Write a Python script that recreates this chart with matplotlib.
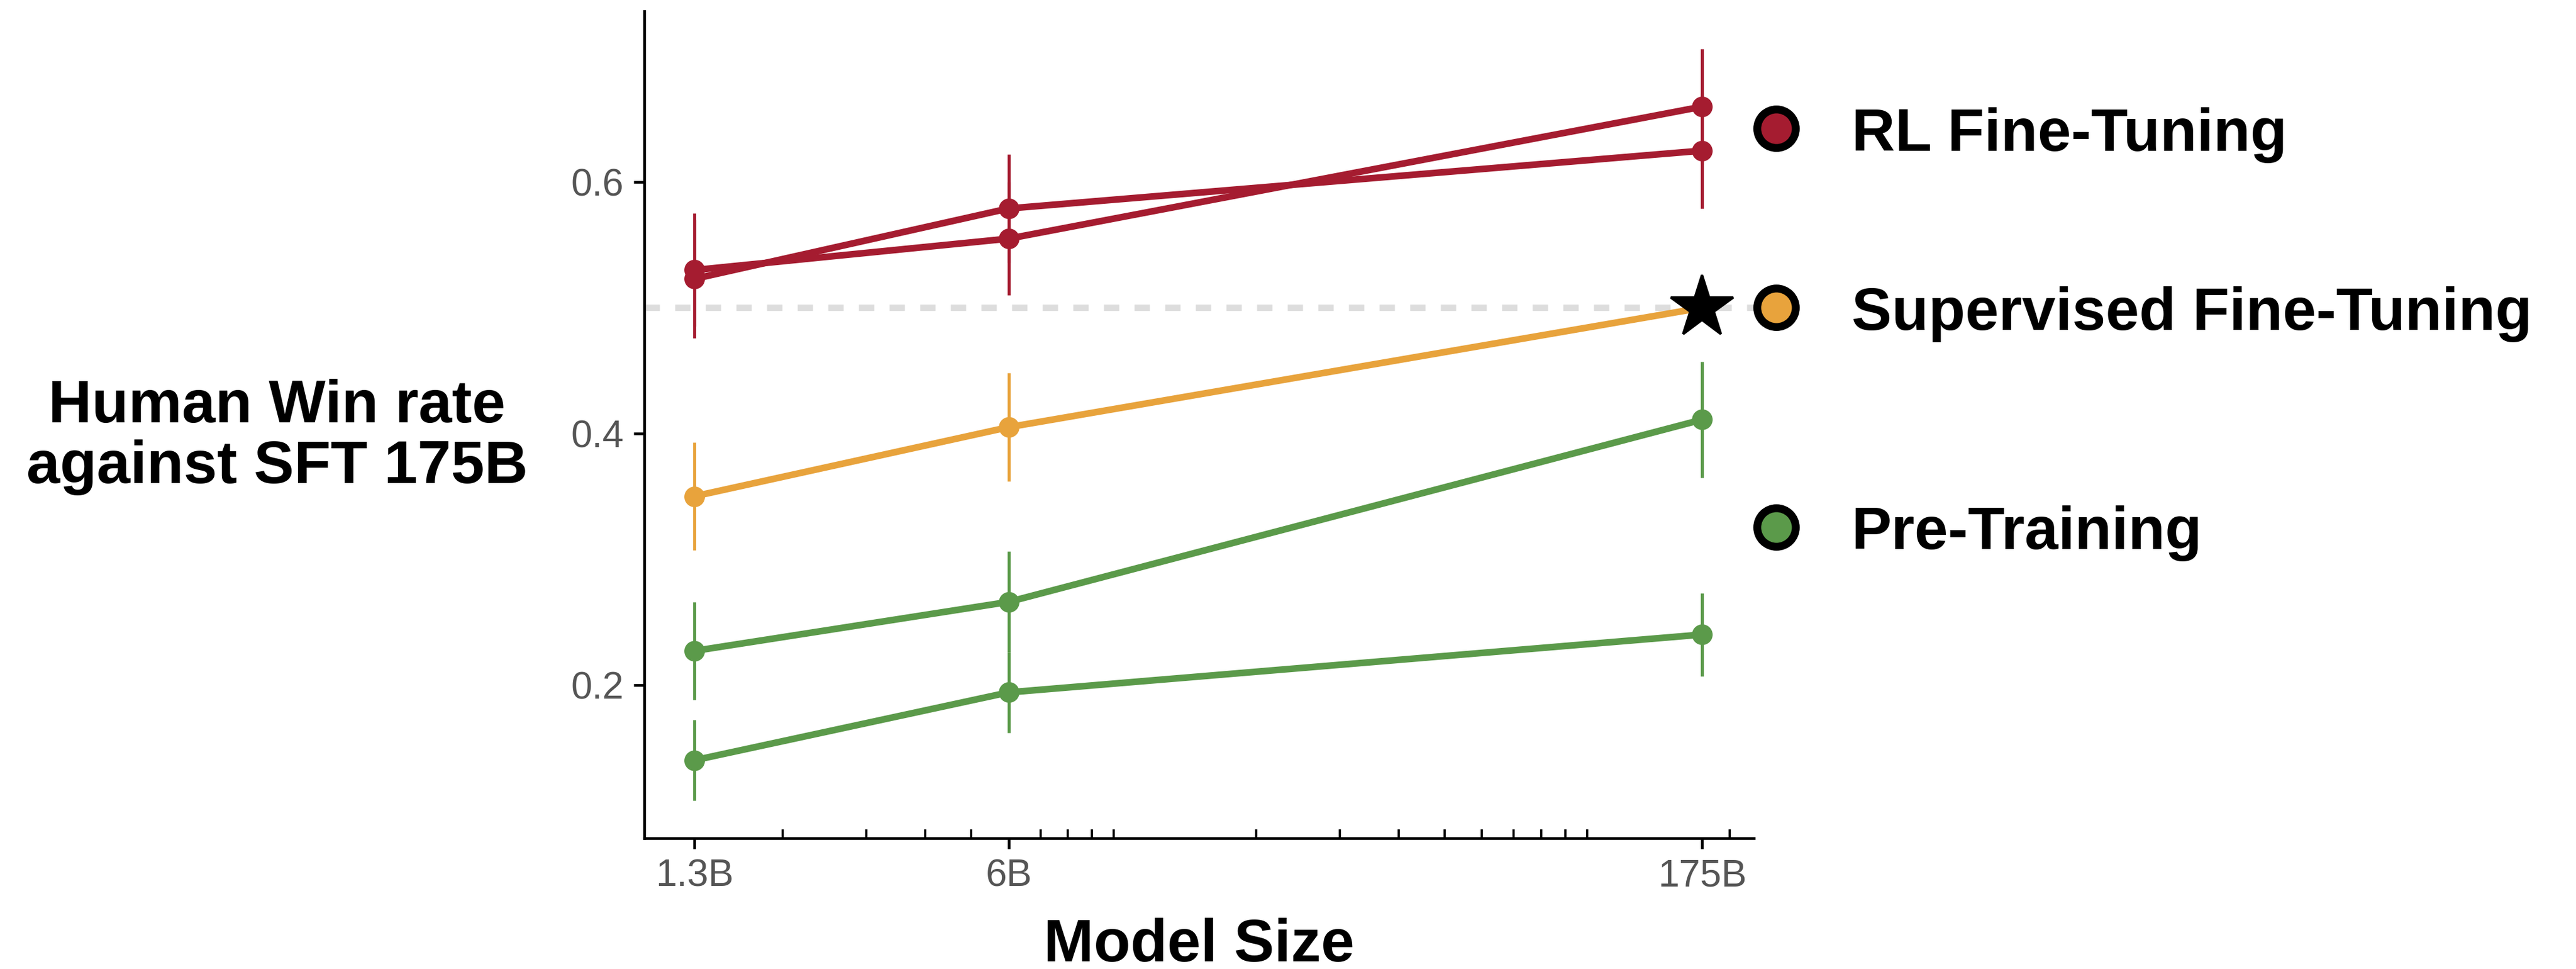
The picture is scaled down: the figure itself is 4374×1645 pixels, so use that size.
import numpy as np
import matplotlib
matplotlib.use('Agg')
import matplotlib.pyplot as plt
import matplotlib.transforms as mtransforms
from matplotlib.ticker import FixedLocator, LogLocator, NullFormatter

plt.rcParams['font.family'] = ['Liberation Sans', 'DejaVu Sans']

# data
sizes = [1.3, 6, 175]
size_labels = ['1.3B', '6B', '175B']

rl_a = [0.523, 0.579, 0.625]
rl_a_err = [0.047, 0.043, 0.046]
rl_b = [0.530, 0.555, 0.660]
rl_b_err = [0.045, 0.045, 0.046]

sft = [0.350, 0.405, 0.500]
sft_err = [0.043, 0.043, 0.0]

pt_a = [0.227, 0.266, 0.411]
pt_a_err = [0.039, 0.040, 0.046]
pt_b = [0.140, 0.194, 0.240]
pt_b_err = [0.032, 0.032, 0.033]

baseline = 0.5

RED = '#a51c30'
ORANGE = '#e8a33c'
GREEN = '#5b9a4a'

fig = plt.figure(figsize=(4374 / 300, 1645 / 300), dpi=300)
ax = fig.add_axes([0.2501, 0.1350, 0.4307, 0.8535])

ax.axhline(baseline, color='#dddddd', lw=2.6, dashes=(2.4, 2.4), zorder=1)

series = [
    (rl_a, rl_a_err, RED),
    (rl_b, rl_b_err, RED),
    (sft, sft_err, ORANGE),
    (pt_a, pt_a_err, GREEN),
    (pt_b, pt_b_err, GREEN),
]
for vals, errs, col in series:
    ax.errorbar(sizes, vals, yerr=errs, color=col, lw=2.7, elinewidth=1.25,
                capsize=0, marker='o', ms=7.4, zorder=3)

# SFT 175B reference point
ax.plot([sizes[-1]], [sft[-1]], marker='*', ms=26.5, color='black',
        ls='none', zorder=5, clip_on=False)

ax.set_xscale('log')
ax.set_xlim(1.019, 225)
ax.set_ylim(0.078, 0.736)

ax.xaxis.set_major_locator(FixedLocator(sizes))
ax.set_xticklabels(size_labels)
ax.xaxis.set_minor_locator(LogLocator(base=10, subs=np.arange(1, 10), numticks=20))
ax.xaxis.set_minor_formatter(NullFormatter())
ax.set_yticks([0.2, 0.4, 0.6])
ax.set_yticklabels(['0.2', '0.4', '0.6'])

ax.tick_params(axis='both', which='major', direction='out', length=4.4, width=1.1,
               labelsize=15.5, labelcolor='#555555', pad=4)
ax.tick_params(axis='x', which='minor', direction='in', length=3.6, width=0.9)

for s in ['top', 'right']:
    ax.spines[s].set_visible(False)
for s in ['left', 'bottom']:
    ax.spines[s].set_linewidth(1.1)

ax.set_xlabel('Model Size', fontsize=24.5, fontweight='bold', va='baseline')
ax.xaxis.set_label_coords(0.5, -0.149)
ax.set_ylabel('Human Win rate\nagainst SFT 175B', fontsize=24.5, fontweight='bold',
              rotation=0, ha='center', va='center', linespacing=1.1)
ax.yaxis.set_label_coords(-0.331, 0.485)

# labels on the right, placed at the mean of each group's 175B values
trans = mtransforms.blended_transform_factory(ax.transAxes, ax.transData)
groups = [
    ('RL Fine-Tuning', RED, np.mean([rl_a[-1], rl_b[-1]])),
    ('Supervised Fine-Tuning', ORANGE, sft[-1]),
    ('Pre-Training', GREEN, np.mean([pt_a[-1], pt_b[-1]])),
]
for name, col, yv in groups:
    ax.plot([1.0202], [yv], transform=trans, marker='o', ms=15.7, mew=3.2,
            mfc=col, mec='black', clip_on=False, zorder=6)
    ax.annotate(name, xy=(1.088, yv), xycoords=trans, xytext=(0, -8.9),
                textcoords='offset points', va='baseline', ha='left',
                fontsize=24.5, fontweight='bold', annotation_clip=False)

fig.savefig('out.png', dpi=300)
